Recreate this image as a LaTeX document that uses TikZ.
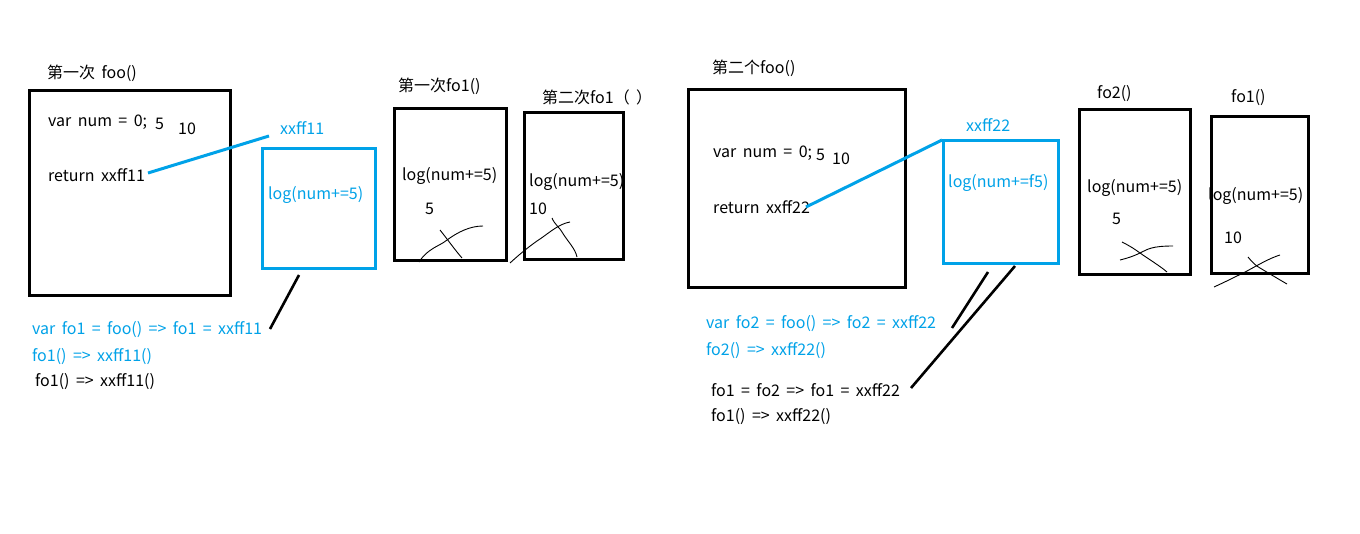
\documentclass[tikz,border=0pt]{standalone}
\usepackage{fontspec}
\setmainfont{Noto Sans CJK SC}
\definecolor{pblue}{RGB}{0,162,232}
\newcommand{\wsp}{\fontsize{16}{18}\selectfont\spaceskip=0.4em plus 0.1em\relax}
\tikzset{
  txt/.style={anchor=west,inner sep=0pt,font=\wsp},
  btxt/.style={txt,text=pblue},
  bbox/.style={draw=black,line width=3pt,anchor=north west,inner sep=0pt},
  blbox/.style={draw=pblue,line width=3pt,anchor=north west,inner sep=0pt},
  bline/.style={draw=pblue,line width=3pt},
  kline/.style={draw=black,line width=2.6pt},
  scrib/.style={draw=black,line width=0.9pt},
}
\begin{document}
\begin{tikzpicture}[x=1pt,y=-1pt]
\useasboundingbox[fill=white] (0,0) rectangle (1360,533);

% ---------- first foo ----------
\node[txt] (l1) at (47,73) {第一次 foo()};
\node[bbox,minimum width=201pt,minimum height=205pt] (foo1) at (28,89) {};
\node[txt] (v1) at (48,122) {var num = 0;};
\node[txt] (v1a) at (155,124) {5};
\node[txt] (v1b) at (178,129) {10};
\node[txt] (r1) at (48,175) {return xxff11};
\node[btxt] (x1) at (280,128) {xxff11};
\node[blbox,minimum width=113pt,minimum height=120pt] (c1) at (261,147) {};
\node[btxt] (c1t) at (268,195) {log(num+=5)};
\coordinate (a1) at (148,173);
\coordinate (a2) at (269,136);
\draw[bline] (a1) -- (a2);
\coordinate (k1) at (299,275);
\coordinate (k2) at (270,329);
\draw[kline] (k1) -- (k2);
\node[btxt] (t1) at (32,330) {var fo1 = foo() => fo1 = xxff11};
\node[btxt] (t2) at (32,357) {fo1() => xxff11()};
\node[txt] (t3) at (35,382) {fo1() => xxff11()};

% ---------- first fo1 ----------
\node[txt] (l2) at (398,86) {第一次fo1()};
\node[bbox,minimum width=112pt,minimum height=152pt] (f1) at (393,107) {};
\node[txt] (f1t) at (402,176) {log(num+=5)};
\node[txt] (f1n) at (425,209) {5};
\draw[scrib] (419,262) .. controls (428,248) and (440,246) .. (447,240)
  .. controls (458,232) and (470,226) .. (483,226);
\draw[scrib] (440,230) .. controls (448,240) and (455,250) .. (462,258);

% ---------- second fo1 ----------
\node[txt] (l3) at (542,97) {第二次fo1（ ）};
\node[bbox,minimum width=99pt,minimum height=147pt] (f2) at (523,111) {};
\node[txt] (f2t) at (529,182) {log(num+=5)};
\node[txt] (f2n) at (529,209) {10};
\draw[scrib] (510,263) .. controls (522,252) and (530,246) .. (537,241)
  .. controls (548,234) and (558,224) .. (570,222);
\draw[scrib] (552,218) .. controls (555,225) and (560,228) .. (562,232)
  .. controls (568,242) and (575,248) .. (577,257);

% ---------- second foo ----------
\node[txt] (l4) at (712,68) {第二个foo()};
\node[bbox,minimum width=217pt,minimum height=198pt] (foo2) at (687,88) {};
\node[txt] (v2) at (713,153) {var num = 0;};
\node[txt] (v2a) at (816,155) {5};
\node[txt] (v2b) at (832,159) {10};
\node[txt] (r2) at (713,207) {return xxff22};
\node[btxt] (x2) at (966,125) {xxff22};
\node[blbox,minimum width=115pt,minimum height=123pt] (c2) at (942,139) {};
\node[btxt] (c2t) at (948,183) {log(num+=f5)};
\coordinate (b1) at (806,207);
\coordinate (b2) at (942,140);
\draw[bline] (b1) -- (b2);
\coordinate (m1) at (988,272);
\coordinate (m2) at (952,328);
\draw[kline] (m1) -- (m2);
\coordinate (n1) at (1015,266);
\coordinate (n2) at (911,388);
\draw[kline] (n1) -- (n2);
\node[btxt] (t4) at (706,324) {var fo2 = foo() => fo2 = xxff22};
\node[btxt] (t5) at (706,351) {fo2() => xxff22()};
\node[txt] (t6) at (711,390) {fo1 = fo2 => fo1 = xxff22};
\node[txt] (t7) at (711,417) {fo1() => xxff22()};

% ---------- fo2() ----------
\node[txt] (l5) at (1097,94) {fo2()};
\node[bbox,minimum width=111pt,minimum height=165pt] (g1) at (1078,108) {};
\node[txt] (g1t) at (1087,188) {log(num+=5)};
\node[txt] (g1n) at (1112,219) {5};
\draw[scrib] (1120,260) .. controls (1128,258) and (1134,256) .. (1140,253)
  .. controls (1148,249) and (1152,246) .. (1173,246);
\draw[scrib] (1122,242) .. controls (1130,246) and (1136,250) .. (1140,253)
  .. controls (1150,260) and (1160,266) .. (1167,272);

% ---------- fo1() ----------
\node[txt] (l6) at (1231,98) {fo1()};
\node[bbox,minimum width=97pt,minimum height=157pt] (g2) at (1210,115) {};
\begin{scope}
\clip (1200,180) rectangle (1308,212);
\node[txt] (g2t) at (1208,196) {log(num+=5)};
\end{scope}
\node[txt] (g2n) at (1224,238) {10};
\draw[scrib] (1214,287) .. controls (1225,282) and (1237,276) .. (1247,271)
  .. controls (1258,265) and (1270,258) .. (1280,255);
\draw[scrib] (1248,257) .. controls (1252,262) and (1256,266) .. (1260,268)
  .. controls (1270,274) and (1280,280) .. (1287,284);
\end{tikzpicture}
\end{document}
